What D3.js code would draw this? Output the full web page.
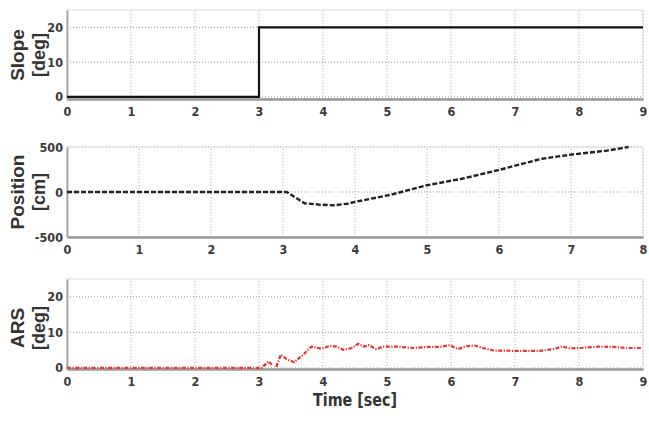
<!DOCTYPE html>
<html>
<head>
<meta charset="utf-8">
<script src="https://d3js.org/d3.v7.min.js"></script>
<style>
  body { margin: 0; background: #fff; }
  svg { display: block; }
  .tick text { font-family: "DejaVu Sans Condensed", "DejaVu Sans", sans-serif; font-weight: bold; font-size: 12.5px; fill: #3a3a3a; }
  .ylab { font-family: "Liberation Sans", Arial, sans-serif; font-weight: bold; fill: #333; }
</style>
</head>
<body>
<svg width="649" height="422"></svg>
<script>
// slope input
var slopeTime = [0, 3, 3, 9];
var slopeDeg = [0, 0, 20, 20];

// vehicle position
var posTime = [0, 1, 2, 3.05, 3.15, 3.3, 3.5, 3.7, 3.9, 4.0, 4.5, 5.0, 5.5, 6.0, 6.5, 6.6, 7.0, 7.5, 7.8];
var posCm = [0, 0, 0, 0, -50, -125, -140, -148, -130, -110, -30, 75, 150, 245, 350, 370, 415, 460, 500];

// ARS angle (null = gap)
var arsTime = [0, 1, 2, 3.04, 3.15, 3.2, 3.23, 3.27, 3.34, 3.43, 3.55, 3.67, 3.82, 3.98, 4.11, 4.21, 4.32, 4.45, 4.55, 4.64, 4.72, 4.83, 4.94, 5.15, 5.41, 5.62, 5.83, 5.98, 6.11, 6.24, 6.37, 6.5, 6.66, 7.02, 7.39, 7.6, 7.73, 7.86, 8.02, 8.3, 8.54, 8.75, 8.98];
var arsDeg = [0, 0, 0, 0, 1.85, 0.9, null, 0.3, 3.7, 2.5, 1.6, 3.4, 6.0, 5.4, 6.2, 6.0, 5.1, 5.6, 6.8, 6.0, 6.4, 5.3, 6.0, 6.0, 5.6, 5.9, 5.9, 6.4, 5.3, 6.1, 6.3, 5.6, 4.9, 4.8, 4.8, 5.3, 6.0, 5.5, 5.6, 6.0, 5.9, 5.6, 5.6];

var timeTicks9 = [0, 1, 2, 3, 4, 5, 6, 7, 8, 9];
var timeTicks8 = [0, 1, 2, 3, 4, 5, 6, 7, 8];
var degTicks = [0, 10, 20];
var cmTicks = [-500, 0, 500];

var svg = d3.select("svg");

var panels = [
    { t: slopeTime, v: slopeDeg, xd: [0, 9], xt: timeTicks9, yd: [-0.6, 25], yr: [99, 10], yt: degTicks,
      lab: ["Slope", "[deg]"], labY: 55, stroke: "#111", width: 2.2, dash: null },
    { t: posTime, v: posCm, xd: [0, 8], xt: timeTicks8, yd: [-500, 500], yr: [237, 147], yt: cmTicks,
      lab: ["Position", "[cm]"], labY: 192, stroke: "#222", width: 2.4, dash: "5,2" },
    { t: arsTime, v: arsDeg, xd: [0, 9], xt: timeTicks9, yd: [-0.3, 25], yr: [369, 279], yt: degTicks,
      lab: ["ARS", "[deg]"], labY: 328, stroke: "#e8332f", width: 2.2, dash: "4,1.5,1.2,1.5" }
];

panels.forEach(function (p) {
    var x = d3.scaleLinear().domain(p.xd).range([67, 643]);
    var y = d3.scaleLinear().domain(p.yd).range(p.yr);
    var g = svg.append("g");

    // grid
    g.selectAll(".vg").data(p.xt).enter().append("line")
        .attr("x1", d => x(d)).attr("x2", d => x(d))
        .attr("y1", p.yr[0]).attr("y2", p.yr[1])
        .attr("stroke", "#aaa").attr("stroke-width", 1).attr("stroke-dasharray", "1,2");
    g.selectAll(".hg").data(p.yt).enter().append("line")
        .attr("x1", 67).attr("x2", 643)
        .attr("y1", d => y(d)).attr("y2", d => y(d))
        .attr("stroke", "#999").attr("stroke-width", 1).attr("stroke-dasharray", "1,2");

    // box
    g.append("rect")
        .attr("x", 67).attr("y", p.yr[1])
        .attr("width", 576).attr("height", p.yr[0] - p.yr[1])
        .attr("fill", "none").attr("stroke", "#ddd").attr("stroke-width", 1);

    // axes
    var xa = g.append("g").attr("transform", "translate(0," + p.yr[0] + ")")
        .call(d3.axisBottom(x).tickValues(p.xt).tickSize(0).tickPadding(8).tickFormat(d => String(d)));
    xa.select(".domain").attr("stroke", "#999").attr("stroke-width", 2.5);
    var ya = g.append("g").attr("transform", "translate(67,0)")
        .call(d3.axisLeft(y).tickValues(p.yt).tickSize(0).tickPadding(4).tickFormat(d => String(d)));
    ya.select(".domain").attr("stroke", "#aaa").attr("stroke-width", 2);

    // series
    var line = d3.line()
        .defined((d, i) => p.v[i] !== null)
        .x((d, i) => x(p.t[i]))
        .y((d, i) => y(p.v[i]));
    g.append("path")
        .attr("d", line(p.t))
        .attr("fill", "none")
        .attr("stroke", p.stroke)
        .attr("stroke-width", p.width)
        .attr("stroke-dasharray", p.dash);

    // y labels
    g.append("text").attr("class", "ylab")
        .attr("transform", "translate(24," + p.labY + ") rotate(-90)")
        .attr("text-anchor", "middle").style("font-size", "19px").text(p.lab[0]);
    g.append("text").attr("class", "ylab")
        .attr("transform", "translate(45," + p.labY + ") rotate(-90)")
        .attr("text-anchor", "middle").style("font-size", "18px").text(p.lab[1]);
});

svg.append("text")
    .attr("x", 355).attr("y", 406)
    .attr("text-anchor", "middle")
    .attr("textLength", 84).attr("lengthAdjust", "spacingAndGlyphs")
    .style("font-family", "'DejaVu Sans Condensed', sans-serif")
    .style("font-weight", "bold").style("font-size", "18px").style("fill", "#333")
    .text("Time [sec]");
</script>
</body>
</html>
